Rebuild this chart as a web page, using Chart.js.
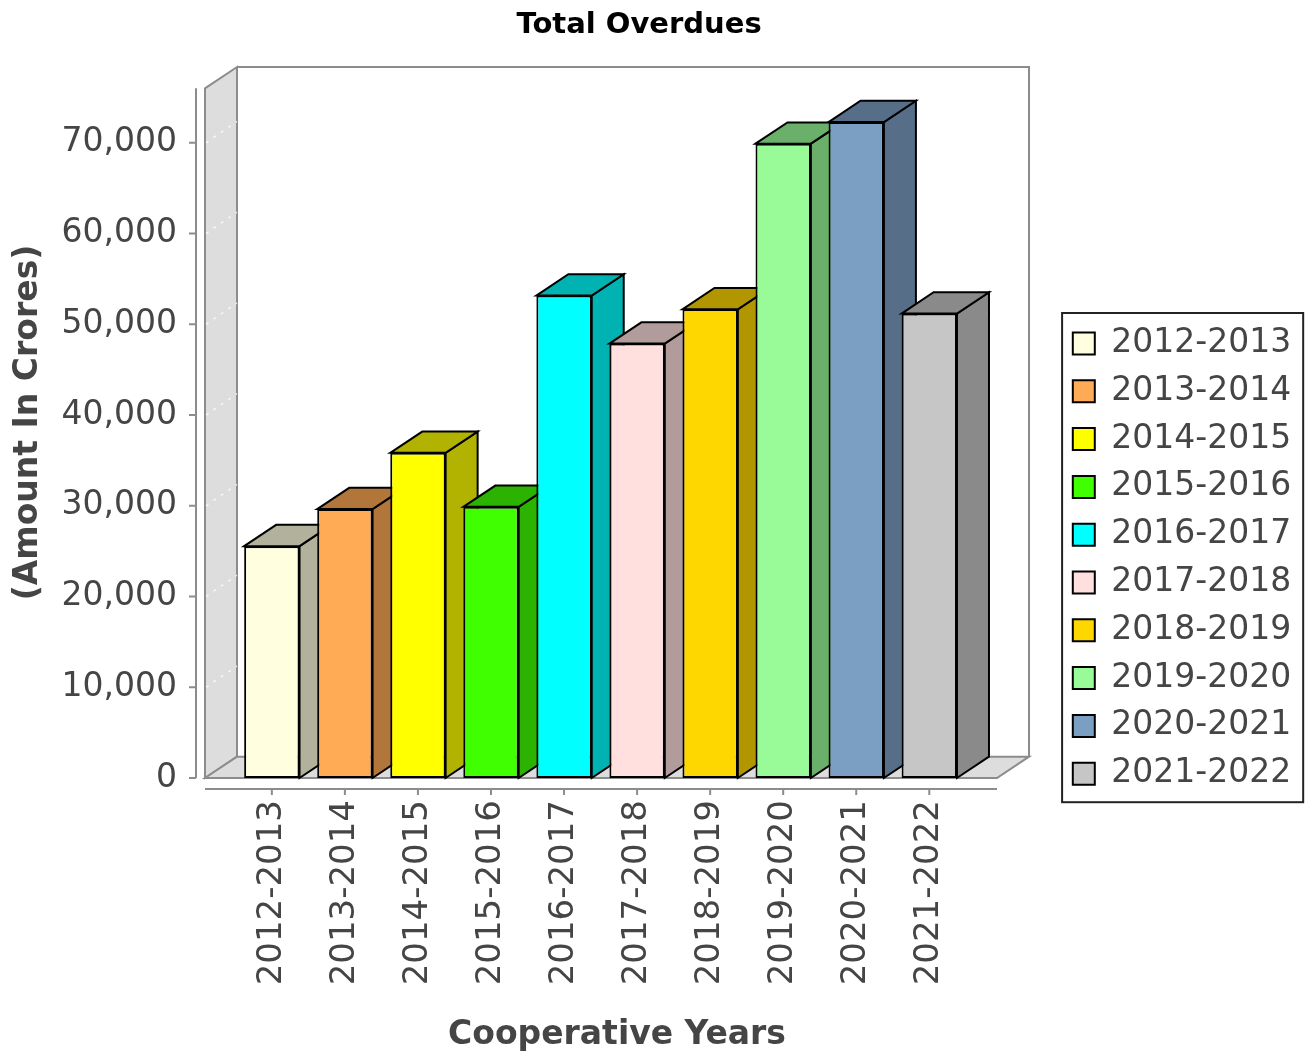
<!DOCTYPE html>
<html>
<head>
<meta charset="utf-8">
<script src="https://cdn.jsdelivr.net/npm/chart.js@4.4.1/dist/chart.umd.min.js"></script>
<style>
  html, body { margin: 0; padding: 0; background: #ffffff; }
  #wrap { width: 1305px; height: 1056px; }
</style>
</head>
<body>
<div id="wrap"><canvas id="c" width="1305" height="1056"></canvas></div>
<script>
// ---------------- data ----------------
const TITLE = 'Total Overdues';
const Y_TITLE = '(Amount In Crores)';
const X_TITLE = 'Cooperative Years';
const CATEGORIES = ['2012-2013', '2013-2014', '2014-2015', '2015-2016', '2016-2017',
                    '2017-2018', '2018-2019', '2019-2020', '2020-2021', '2021-2022'];
const VALUES = [25550, 29630, 35830, 29880, 53160, 47870, 51650, 69900, 72280, 51180];
const COLORS = ['#FFFFE0', '#FFAA55', '#FFFF00', '#40FF00', '#00FFFF',
                '#FFE0DE', '#FFD700', '#98FB98', '#7B9EC3', '#C6C6C6'];
const Y_TICKS = [0, 10000, 20000, 30000, 40000, 50000, 60000, 70000];

// ---------------- styling / layout ----------------
const FONT = 'DejaVu Sans';
const TEXT_GRAY = '#454545';
const DX = 32, DY = 21.3;            // 3D depth offsets
const Y_MAX = 78350;                 // axis top at back wall (front plane top = 76,000)
const X_MIN = -0.915, X_MAX = 10.365;
const LEG_FS = 33, LEG_BOX = 22, LEG_PAD = 14.8;
const GAP_W = 29;
const PAD_L = -23, Y_AXIS_W = 228, PLOT_W = 824, X_AXIS_H = 278;

const mctx = document.createElement('canvas').getContext('2d');
mctx.font = LEG_FS + 'px "' + FONT + '"';
const legTextW = Math.max(...CATEGORIES.map(c => mctx.measureText(c).width));
const LEG_W = LEG_PAD + LEG_BOX + LEG_FS / 2 + legTextW + 10;
const PAD_R = 1305 - PAD_L - Y_AXIS_W - PLOT_W - GAP_W - LEG_W;

function darker(hex) {
  const n = parseInt(hex.slice(1), 16);
  const r = Math.floor(((n >> 16) & 255) * 0.7);
  const g = Math.floor(((n >> 8) & 255) * 0.7);
  const b = Math.floor((n & 255) * 0.7);
  return 'rgb(' + r + ',' + g + ',' + b + ')';
}

function poly(ctx, pts, fill, stroke) {
  ctx.beginPath();
  ctx.moveTo(pts[0][0], pts[0][1]);
  for (let i = 1; i < pts.length; i++) ctx.lineTo(pts[i][0], pts[i][1]);
  ctx.closePath();
  if (fill) ctx.fill();
  if (stroke) ctx.stroke();
}

const bar3d = {
  id: 'bar3d',
  beforeDatasetsDraw(chart) {
    const { ctx, chartArea: ca, scales } = chart;
    const ys = scales.y;
    const L = ca.left, B = ca.bottom, R = ca.right - DX, T = ca.top + DY;
    ctx.save();
    ctx.lineJoin = 'miter';
    // walls
    ctx.fillStyle = '#DDDDDD';
    ctx.strokeStyle = '#8C8C8C';
    ctx.lineWidth = 2;
    poly(ctx, [[L, B], [L, T], [L + DX, T - DY], [L + DX, B - DY]], true, true);
    poly(ctx, [[L, B], [L + DX, B - DY], [R + DX, B - DY], [R, B]], true, true);
    ctx.beginPath();
    ctx.moveTo(L + DX, T - DY);
    ctx.lineTo(R + DX, T - DY);
    ctx.lineTo(R + DX, B - DY);
    ctx.stroke();
    // gridlines on the wall
    ctx.strokeStyle = 'rgba(255,255,255,0.75)';
    ctx.lineWidth = 1.5;
    ctx.setLineDash([3, 6]);
    ys.ticks.forEach(t => {
      if (t.value === 0) return;
      const py = ys.getPixelForValue(t.value);
      ctx.beginPath();
      ctx.moveTo(L + 1, py);
      ctx.lineTo(L + DX, py - DY);
      ctx.stroke();
    });
    ctx.setLineDash([]);
    // bar tops & sides
    const meta = chart.getDatasetMeta(0);
    ctx.strokeStyle = '#000000';
    ctx.lineWidth = 2;
    meta.data.forEach((bar, i) => {
      const p = bar.getProps(['x', 'y', 'base', 'width'], true);
      const l = p.x - p.width / 2, r = p.x + p.width / 2;
      ctx.fillStyle = darker(COLORS[i]);
      poly(ctx, [[r, p.y], [r + DX, p.y - DY], [r + DX, p.base - DY], [r, p.base]], true, true);
      poly(ctx, [[l, p.y], [l + DX, p.y - DY], [r + DX, p.y - DY], [r, p.y]], true, true);
    });
    ctx.restore();
  },
  afterDraw(chart) {
    const { ctx, chartArea: ca, scales } = chart;
    const xs = scales.x, ys = scales.y;
    const L = ca.left, B = ca.bottom, R = ca.right - DX, T = ca.top + DY;
    ctx.save();
    ctx.strokeStyle = '#8C8C8C';
    ctx.lineWidth = 2;
    // value axis line + tick marks
    ctx.beginPath();
    ctx.moveTo(L - 9, T); ctx.lineTo(L - 9, B);
    ys.ticks.forEach(t => {
      const py = ys.getPixelForValue(t.value);
      ctx.moveTo(L - 16, py); ctx.lineTo(L - 9, py);
    });
    ctx.stroke();
    // category axis line + tick marks
    ctx.beginPath();
    ctx.moveTo(L, B + 11); ctx.lineTo(R, B + 11);
    xs.ticks.forEach(t => {
      const px = xs.getPixelForValue(t.value);
      ctx.moveTo(px, B + 11); ctx.lineTo(px, B + 17);
    });
    ctx.stroke();
    // legend frame
    const hb = chart.legend && chart.legend.legendHitBoxes;
    if (hb && hb.length) {
      const left = Math.min(...hb.map(h => h.left)) - 10.7;
      const right = Math.max(...hb.map(h => h.left + h.width)) + 12;
      const top = hb[0].top - 14;
      const bottom = hb[hb.length - 1].top + hb[hb.length - 1].height + 12;
      ctx.strokeStyle = '#222222';
      ctx.lineWidth = 2;
      ctx.strokeRect(left, top, right - left, bottom - top);
    }
    ctx.restore();
  }
};

new Chart(document.getElementById('c'), {
  type: 'bar',
  data: {
    datasets: [{
      data: VALUES.map((v, i) => ({ x: i, y: v })),
      backgroundColor: COLORS,
      borderColor: '#000000',
      borderWidth: 2,
      borderSkipped: false,
      categoryPercentage: 1,
      barPercentage: 0.758
    }]
  },
  options: {
    responsive: false,
    animation: false,
    events: [],
    layout: { padding: { left: PAD_L, right: PAD_R, top: 0, bottom: 0 } },
    scales: {
      x: {
        type: 'linear',
        min: X_MIN, max: X_MAX,
        bounds: 'data',
        offset: false,
        afterBuildTicks: s => { s.ticks = CATEGORIES.map((c, i) => ({ value: i })); },
        afterFit: s => { s.height = X_AXIS_H; },
        grid: { display: false, drawTicks: false },
        border: { display: false },
        ticks: {
          autoSkip: false, maxRotation: 90, minRotation: 90, padding: 22,
          color: TEXT_GRAY, font: { family: FONT, size: 34 },
          callback: v => CATEGORIES[v]
        },
        title: {
          display: true, text: X_TITLE, color: TEXT_GRAY,
          font: { family: FONT, size: 33, weight: 'bold' },
          padding: { top: 0, bottom: 1 }
        }
      },
      y: {
        type: 'linear',
        min: 0, max: Y_MAX,
        bounds: 'data',
        afterBuildTicks: s => { s.ticks = Y_TICKS.map(v => ({ value: v })); },
        afterFit: s => { s.width = Y_AXIS_W; },
        grid: { display: false, drawTicks: false },
        border: { display: false },
        ticks: {
          padding: 28, color: TEXT_GRAY, font: { family: FONT, size: 33 },
          callback: v => v.toLocaleString('en-US')
        },
        title: {
          display: true, text: Y_TITLE, color: TEXT_GRAY,
          font: { family: FONT, size: 33, weight: 'bold' },
          padding: { top: 31.2, bottom: 0 }
        }
      },
      gap: {
        type: 'linear', position: 'right', display: true,
        afterFit: s => { s.width = GAP_W; },
        grid: { display: false, drawTicks: false },
        border: { display: false },
        ticks: { display: false }
      }
    },
    plugins: {
      title: {
        display: true, text: TITLE, color: '#000000',
        font: { family: FONT, size: 29, weight: 'bold' },
        padding: { top: 8, bottom: 24.2 }
      },
      legend: {
        display: true,
        position: 'right',
        align: 'center',
        maxWidth: 400,
        onClick: null,
        title: { display: true, text: '', font: { size: 1 }, padding: { top: 30, bottom: 30 } },
        labels: {
          boxWidth: LEG_BOX, boxHeight: LEG_BOX, padding: LEG_PAD,
          color: TEXT_GRAY, font: { family: FONT, size: LEG_FS },
          generateLabels: () => CATEGORIES.map((c, i) => ({
            text: c, fillStyle: COLORS[i], strokeStyle: '#000000', lineWidth: 2,
            hidden: false, index: i, fontColor: TEXT_GRAY
          }))
        }
      },
      tooltip: { enabled: false }
    }
  },
  plugins: [bar3d]
});
</script>
</body>
</html>
